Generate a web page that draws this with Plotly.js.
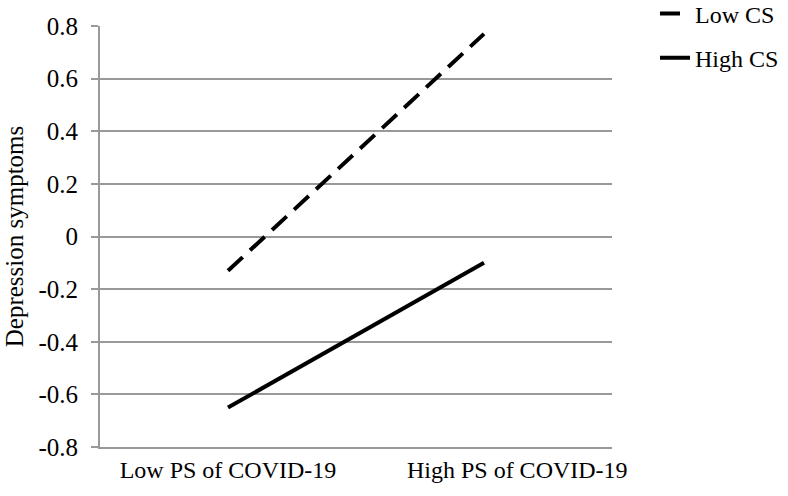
<!DOCTYPE html>
<html>
<head>
<meta charset="utf-8">
<script src="https://cdn.plot.ly/plotly-3.0.1.min.js"></script>
<style>
  html, body { margin: 0; padding: 0; background: #ffffff; }
  #chart { width: 788px; height: 496px; }
</style>
</head>
<body>
<div id="chart"></div>
<script>
  // categories on the x axis
  const categories = ['Low PS of COVID-19', 'High PS of COVID-19'];
  // simple slopes
  const lowCS = [-0.13, 0.77];
  const highCS = [-0.65, -0.10];
  const yTicks = [-0.8, -0.6, -0.4, -0.2, 0, 0.2, 0.4, 0.6, 0.8];
  const yTickText = ['-0.8', '-0.6', '-0.4', '-0.2', '0', '0.2', '0.4', '0.6', '0.8'];

  const FONT = '"Liberation Serif", "Times New Roman", Times, serif';
  const GRID = '#999999';

  const traces = [
    { x: categories, y: lowCS, type: 'scatter', mode: 'lines', name: 'Low CS', legendgroup: 'a',
      line: { color: '#000000', width: 4, dash: '20px,10px' } },
    { x: categories, y: highCS, type: 'scatter', mode: 'lines', name: 'High CS', legendgroup: 'b',
      line: { color: '#000000', width: 4 } }
  ];

  const layout = {
    width: 788,
    height: 496,
    // keep the plot box fixed; the legend sits above/right of it
    margin: { l: 100, r: 176, t: 26, b: 49, autoexpand: false },
    paper_bgcolor: '#ffffff',
    plot_bgcolor: '#ffffff',
    font: { family: FONT, size: 24, color: '#000000' },
    showlegend: true,
    legend: {
      x: 1.084, xanchor: 'left', y: 1.082, yanchor: 'top',
      traceorder: 'grouped', tracegroupgap: 10,
      font: { family: FONT, size: 24, color: '#000000' },
      bgcolor: 'rgba(0,0,0,0)'
    },
    xaxis: {
      type: 'category',
      range: [-0.5, 1.5],
      tickmode: 'array',
      tickvals: [0, 1.13],
      ticktext: categories,
      ticks: '',
      showgrid: false,
      showline: true, linecolor: GRID, linewidth: 2,
      zeroline: false,
      tickfont: { family: FONT, size: 24, color: '#000000' },
      fixedrange: true
    },
    yaxis: {
      range: [-0.8, 0.8],
      tickmode: 'array',
      tickvals: yTicks,
      ticktext: yTickText,
      ticks: 'outside', ticklen: 7, tickwidth: 2, tickcolor: GRID,
      ticklabelstandoff: 8,
      showgrid: true, gridcolor: GRID, gridwidth: 2,
      showline: true, linecolor: GRID, linewidth: 2,
      zeroline: false,
      tickfont: { family: FONT, size: 25, color: '#000000' },
      title: { text: 'Depression symptoms', font: { family: FONT, size: 25, color: '#000000' }, standoff: 8 },
      fixedrange: true
    }
  };

  Plotly.newPlot('chart', traces, layout, { displayModeBar: false, staticPlot: true });
</script>
</body>
</html>
